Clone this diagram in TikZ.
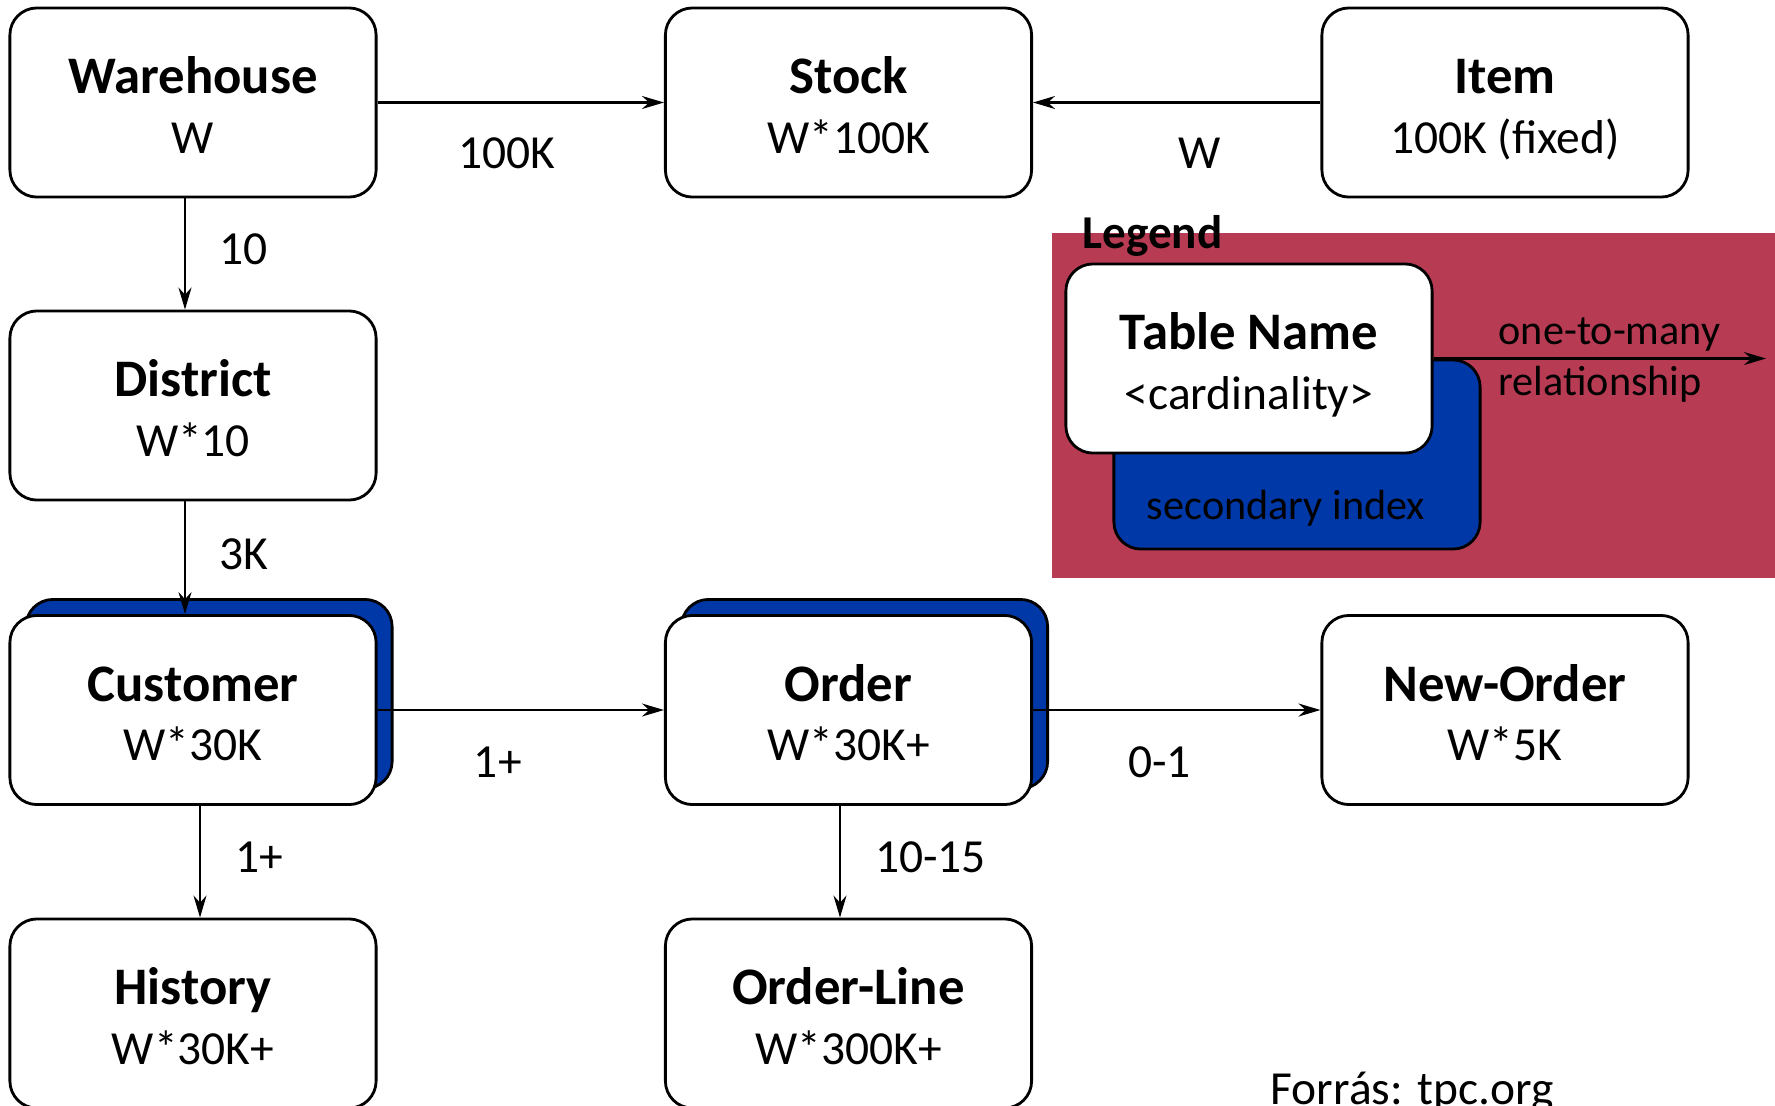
\documentclass[tikz,border=0pt]{standalone}
\usepackage{fontspec}
\usepackage{xcolor}
\setmainfont{Carlito}
\usetikzlibrary{arrows.meta}
\definecolor{legendred}{HTML}{B83B54}
\definecolor{indexblue}{HTML}{0038A8}

\tikzset{
  tablebox/.style={draw, line width=0.8pt, fill=white, rounded corners=0.27cm,
    minimum width=3.66cm, minimum height=1.89cm, inner sep=0pt, align=center,
    font=\fontsize{13.5}{17}\selectfont},
  indexbox/.style={tablebox, fill=indexblue},
  rel/.style={-{Stealth[length=0.22cm, width=0.13cm]}, line width=0.6pt},
  cardlabel/.style={inner sep=0pt, font=\fontsize{13.5}{16}\selectfont},
}
% table name (bold) over its cardinality
\newcommand{\tcard}[2]{{\fontsize{15}{17}\selectfont\bfseries\strut #1}\\ \smash{#2}}

\begin{document}
\begin{tikzpicture}[x=0.01cm, y=-0.01cm]
  % Background
  \useasboundingbox (0, 0) rectangle (1775, 1105);
  \fill[white] (0, 0) rectangle (1775, 1105);

  % Legend
  \fill[legendred] (1052, 233) rectangle (1775, 578);
  \node[anchor=west, inner sep=0pt, font=\fontsize{13.4}{16}\selectfont\bfseries]
    (legend-title) at (1082, 236) {Legend};
  \node[indexbox] (legend-index) at (1297, 454.5) {};
  \node[anchor=center, inner sep=0pt, font=\fontsize{12}{14}\selectfont]
    (legend-index-text) at (1286, 508) {secondary index};
  \node[tablebox] (legend-table) at (1249, 358.5) {\tcard{Table Name}{<cardinality>}};
  \coordinate (legend-end) at (1766, 358.5);
  \draw[rel] (legend-table) -- (legend-end);
  \node[anchor=west, inner sep=0pt, align=left, font=\fontsize{12}{14.5}\selectfont]
    (legend-rel) at (1498, 360) {one-to-many\\ relationship};

  % Secondary indexes
  \node[indexbox] (customer-index) at (209, 694) {};
  \node[indexbox] (order-index) at (864.5, 694) {};

  % Tables
  \node[tablebox] (warehouse) at (193, 102.5) {\tcard{Warehouse}{W}};
  \node[tablebox] (stock) at (848.5, 102.5) {\tcard{Stock}{W*100K}};
  \node[tablebox] (item) at (1505, 102.5) {\tcard{Item}{100K (fixed)}};
  \node[tablebox] (district) at (193, 405.5) {\tcard{District}{W*10}};
  \node[tablebox] (customer) at (193, 710) {\tcard{Customer}{W*30K}};
  \node[tablebox] (order) at (848.5, 710) {\tcard{Order}{W*30K+}};
  \node[tablebox] (new-order) at (1505, 710) {\tcard{New-Order}{W*5K}};
  \node[tablebox] (history) at (193, 1013.5) {\tcard{History}{W*30K+}};
  \node[tablebox] (order-line) at (848.5, 1013.5) {\tcard{Order-Line}{W*300K+}};

  % Relationships
  \draw[rel] (warehouse) -- node[cardlabel, pos=0.45, yshift=-0.51cm] (l-stock) {100K} (stock);
  \draw[rel] (item) -- node[cardlabel, pos=0.42, yshift=-0.51cm] (l-item) {W} (stock);
  \draw[rel] ([xshift=-0.08cm]warehouse.south) -- node[cardlabel, pos=0.46, anchor=west, xshift=0.33cm] (l-district) {10} ([xshift=-0.08cm]district.north);
  \draw[rel] ([xshift=-0.08cm]district.south) -- node[cardlabel, pos=0.47, anchor=west, xshift=0.33cm] (l-customer) {3K} ([xshift=-0.08cm]customer.north);
  \draw[rel] (customer) -- node[cardlabel, pos=0.42, yshift=-0.52cm] (l-order) {1+} (order);
  \draw[rel] (order) -- node[cardlabel, pos=0.44, yshift=-0.52cm] (l-new-order) {0-1} (new-order);
  \draw[rel] ([xshift=0.07cm]customer.south) -- node[cardlabel, pos=0.46, anchor=west, xshift=0.34cm] (l-history) {1+} ([xshift=0.07cm]history.north);
  \draw[rel] ([xshift=-0.085cm]order.south) -- node[cardlabel, pos=0.46, anchor=west, xshift=0.34cm] (l-order-line) {10-15} ([xshift=-0.085cm]order-line.north);

  % Source
  \node[anchor=base west, inner sep=0pt, font=\fontsize{13.5}{16}\selectfont]
    (source) at (1270, 1104) {Forrás: tpc.org};
\end{tikzpicture}
\end{document}
